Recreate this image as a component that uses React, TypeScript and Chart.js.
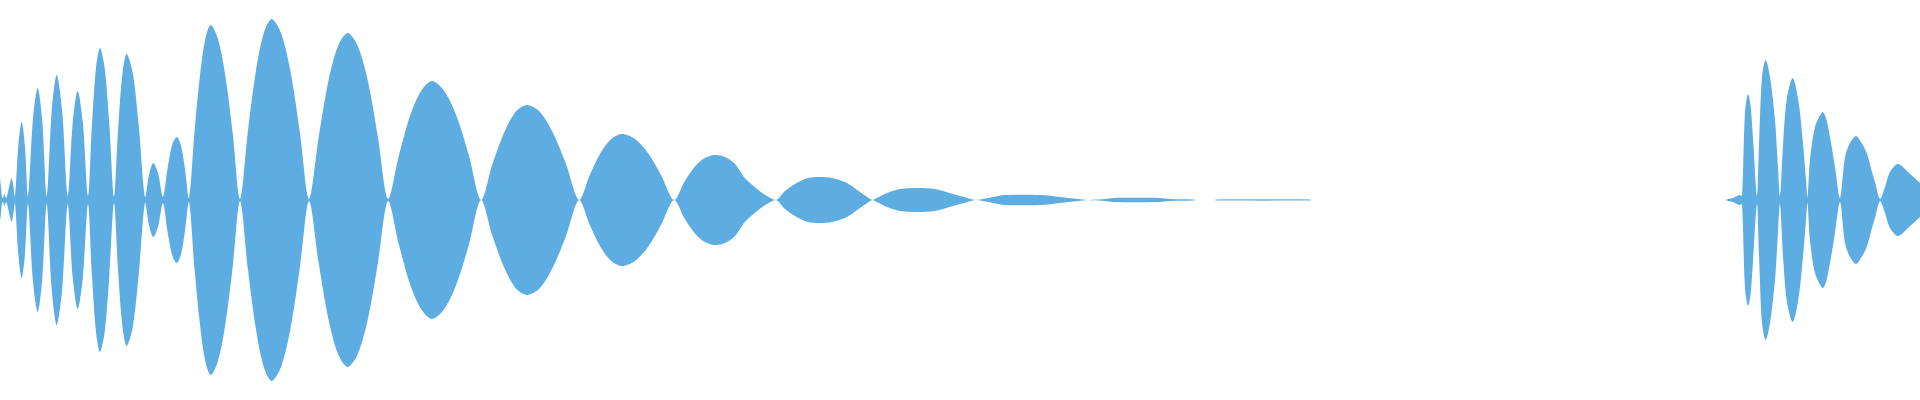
import React, { useEffect, useRef } from 'react';
import Chart from 'chart.js/auto';

// Envelope of the recorded waveform: sample position -> peak amplitude.
// Lower half of the waveform mirrors the upper half.
const introX = [0, 1, 2, 3, 4.5, 6, 7, 8, 10, 11.7, 13.5, 15];
const introAmp = [22, 13, 3, 2, 6, 2, 4, 8, 17, 22, 13, 3];

const trainX = [
  18.4, 21.7, 24.9, 28,
  32.9, 37.7, 42.2, 46.7,
  51.7, 56.7, 62.2, 67.7,
  72.7, 77.7, 82.9, 88,
  92, 96, 100, 104.7, 109.3, 114,
  118.2, 122.5, 126.7, 132.8, 138.9, 145,
  149.2, 153.3, 158.2, 163,
  167.6, 172.1, 176.7, 180.8, 184.9, 189,
  194.4, 199.9, 205.3, 210.7, 218, 225.4, 232.7, 240,
  247.9, 255.9, 263.8, 271.7, 281, 290.4, 299.7, 309,
  318.7, 328.4, 338, 347.7, 357.8, 367.9, 377.9, 388,
  399, 410, 421, 432, 444.3, 456.5, 468.8, 481,
  492.5, 504, 515.5, 527, 540, 553, 566, 579,
  589.8, 600.5, 611.3, 622, 635, 648, 661, 674,
  684.3, 694.5, 704.8, 715, 725, 735, 746.7, 775,
];
const trainAmp = [
  55, 78, 55, 4,
  80, 112, 80, 4,
  89, 125, 89, 4,
  77, 109, 77, 4,
  76, 132, 152, 132, 76, 3,
  73, 127, 146, 127, 73, 3,
  26, 37, 26, 3,
  32, 55, 63, 55, 32, 2,
  67, 124, 161, 175, 161, 124, 67, 1,
  69, 129, 167, 181, 167, 129, 69, 1,
  63, 119, 154, 167, 154, 119, 63, 1,
  45, 84, 109, 119, 109, 84, 45, 0,
  36, 67, 88, 95, 88, 67, 36, 0,
  25, 47, 61, 66, 61, 47, 25, 0,
  18, 33, 42, 45, 43, 36, 20, 0,
];

const decayX = [
  785, 795, 808, 820, 832, 847, 860, 872,
  873, 887, 900, 918, 935, 953, 975,
  978, 993, 1005, 1040, 1060, 1087,
  1093, 1105, 1112, 1160, 1170, 1194,
  1195, 1196, 1214, 1215,
  1216, 1310, 1311,
  1312, 1724, 1725, 1726,
];
const decayAmp = [
  9, 16, 22, 23, 22, 17, 8, 0,
  0, 7, 11, 12, 11, 6, 0,
  0, 3, 5, 5, 3, 0,
  0.3, 1, 2, 2, 1, 0.6,
  0, 0, 0, 0,
  0.6, 0.6, 0,
  0, 0, 0, 0,
];

const burstX = [
  1728, 1733, 1737, 1740, 1742,
  1745, 1748, 1750.5, 1753, 1757,
  1759, 1762, 1765.7, 1770, 1775, 1778, 1780,
  1783.3, 1786.7, 1792.7, 1798.3, 1802.7, 1806, 1807.5,
  1810, 1815, 1822.5, 1826, 1830, 1835, 1840,
  1845, 1850, 1856, 1861, 1866.7, 1872, 1875, 1880,
  1885, 1890, 1898, 1908, 1916.7, 1920,
];
const burstAmp = [
  1, 2, 4, 5, 4,
  88, 106, 95, 62, 4,
  55, 123, 140, 123, 80, 33, 4,
  60, 100, 122, 100, 60, 20, 3,
  40, 73, 88, 82, 63, 33, 2,
  43, 57, 64, 58, 47, 28, 18, 1,
  13, 28, 36, 28, 20, 17,
];

const WAVE_COLOR = '#5DADE2';

const App = () => {
  const chartRef = useRef<HTMLCanvasElement | null>(null);

  useEffect(() => {
    if (!chartRef.current) return;

    const xs = [...introX, ...trainX, ...decayX, ...burstX];
    const amps = [...introAmp, ...trainAmp, ...decayAmp, ...burstAmp];
    const upper = xs.map((x, i) => ({ x, y: amps[i] }));
    const lower = xs.map((x, i) => ({ x, y: -amps[i] }));

    const waveChart = new Chart(chartRef.current, {
      type: 'line',
      data: {
        datasets: [
          {
            data: upper,
            fill: '+1',
            backgroundColor: WAVE_COLOR,
            borderColor: 'transparent',
            borderWidth: 0,
            pointRadius: 0,
            tension: 0.3,
          },
          {
            data: lower,
            fill: false,
            backgroundColor: WAVE_COLOR,
            borderColor: 'transparent',
            borderWidth: 0,
            pointRadius: 0,
            tension: 0.3,
          },
        ],
      },
      options: {
        animation: false,
        responsive: false,
        layout: { padding: 0 },
        plugins: {
          legend: { display: false },
          tooltip: { enabled: false },
        },
        scales: {
          x: { type: 'linear', min: 0, max: 1920, display: false },
          y: { min: -200, max: 200, display: false },
        },
      },
    });

    return () => {
      waveChart.destroy();
    };
  }, []);

  return (
    <canvas
      ref={chartRef}
      width={1920}
      height={400}
      style={{ position: 'absolute', left: 0, top: 0, display: 'block' }}
    />
  );
};

export default App;
